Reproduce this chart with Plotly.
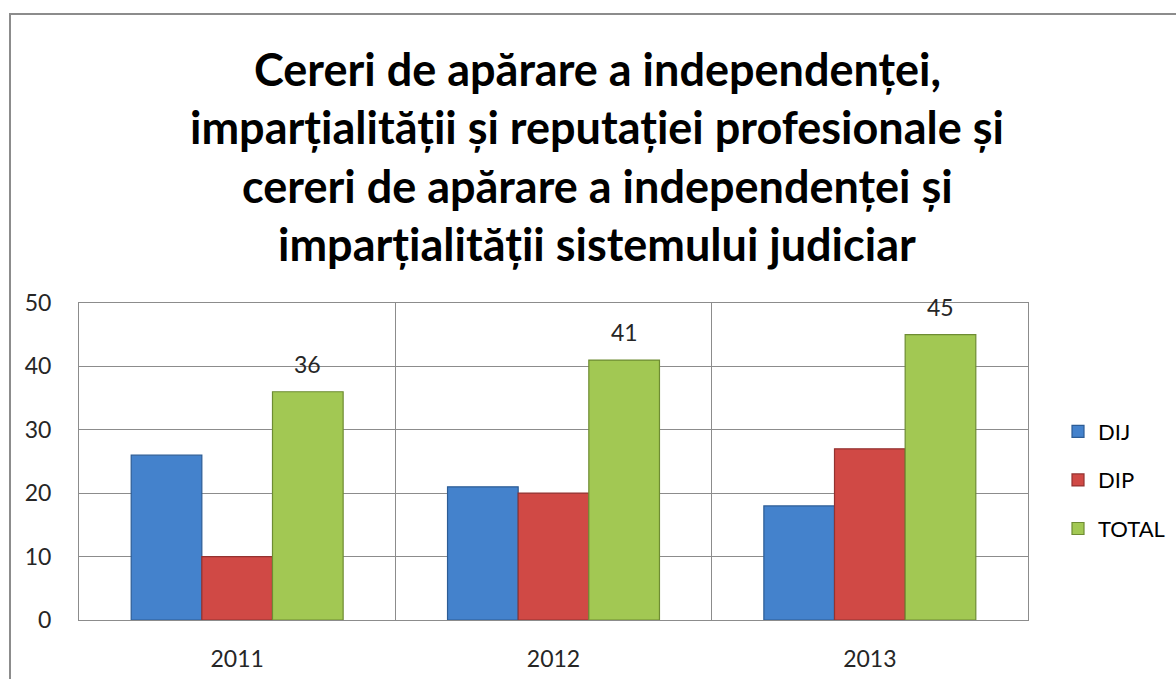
import plotly.graph_objects as go

years = ["2011", "2012", "2013"]
dij = [26, 21, 18]
dip = [10, 20, 27]
total = [36, 41, 45]
series_names = ["DIJ", "DIP", "TOTAL"]
y_ticks = [0, 10, 20, 30, 40, 50]
title_lines = [
    "Cereri de apărare a independenței,",
    "imparțialității și reputației profesionale și",
    "cereri de apărare a independenței și",
    "imparțialității sistemului judiciar",
]

fill_colors = ["#4482CC", "#D04945", "#A2C853"]
line_colors = ["#2C5C95", "#943230", "#6E8C33"]

W, H = 1176, 679
L, R, T, B = 79, 148, 303, 59
pw, ph = W - L - R, H - T - B
BARGAP = 0.33
FONT = "Lato"

fig = go.Figure()
for i, (name, vals) in enumerate(zip(series_names, [dij, dip, total])):
    fig.add_trace(go.Bar(
        x=years, y=vals, name=name, legendgroup=name,
        marker=dict(color=fill_colors[i], line=dict(color=line_colors[i], width=1.2)),
    ))

def px_x(p):
    return (p - L) / pw

def px_y(p):
    return (H - B - p) / ph

annotations = []
# data labels for TOTAL
for i, v in enumerate(total):
    annotations.append(dict(
        x=i + (1 - BARGAP) / 3, y=v, xref="x", yref="y", text=str(v),
        showarrow=False, yanchor="bottom", yshift=12,
        font=dict(family=FONT, size=23, color="#262626"),
    ))
# title lines
title_centers = [69, 127, 186, 244]
for line, cy in zip(title_lines, title_centers):
    annotations.append(dict(
        x=px_x(597), y=px_y(cy), xref="paper", yref="paper", text="<b>" + line + "</b>",
        showarrow=False, xanchor="center", yanchor="middle",
        font=dict(family=FONT, size=45, color="#000000"),
    ))

shapes = [dict(
    type="rect", xref="paper", yref="paper",
    x0=px_x(10), x1=px_x(1200), y0=px_y(700), y1=px_y(14),
    line=dict(color="#8C8C8C", width=2), fillcolor="rgba(0,0,0,0)", layer="below",
)]

fig.update_layout(
    width=W, height=H,
    margin=dict(l=L, r=R, t=T, b=B, autoexpand=False),
    paper_bgcolor="white", plot_bgcolor="white",
    barmode="group", bargap=BARGAP, bargroupgap=0,
    font=dict(family=FONT, size=22, color="#262626"),
    legend=dict(
        x=px_x(1058), y=px_y(480), xanchor="left", yanchor="middle",
        font=dict(family=FONT, size=22, color="#000000"),
        tracegroupgap=17, itemwidth=30, bgcolor="rgba(0,0,0,0)",
    ),
    xaxis=dict(
        type="category", tickson="boundaries", showgrid=True, gridcolor="#8C8C8C", gridwidth=1,
        showline=True, linecolor="#8C8C8C", linewidth=1, mirror=True,
        ticks="", ticklabelstandoff=18,
        tickfont=dict(family=FONT, size=23, color="#262626"),
    ),
    yaxis=dict(
        range=[0, 50], tickvals=y_ticks, showgrid=True, gridcolor="#8C8C8C", gridwidth=1,
        showline=True, linecolor="#8C8C8C", linewidth=1, mirror=True, zeroline=False,
        ticks="", ticklabelstandoff=22,
        tickfont=dict(family=FONT, size=23, color="#262626"),
    ),
    annotations=annotations,
    shapes=shapes,
    showlegend=True,
)

fig.write_html("out.html", config={"displayModeBar": False},
               post_script="document.body.style.margin='0px';")
